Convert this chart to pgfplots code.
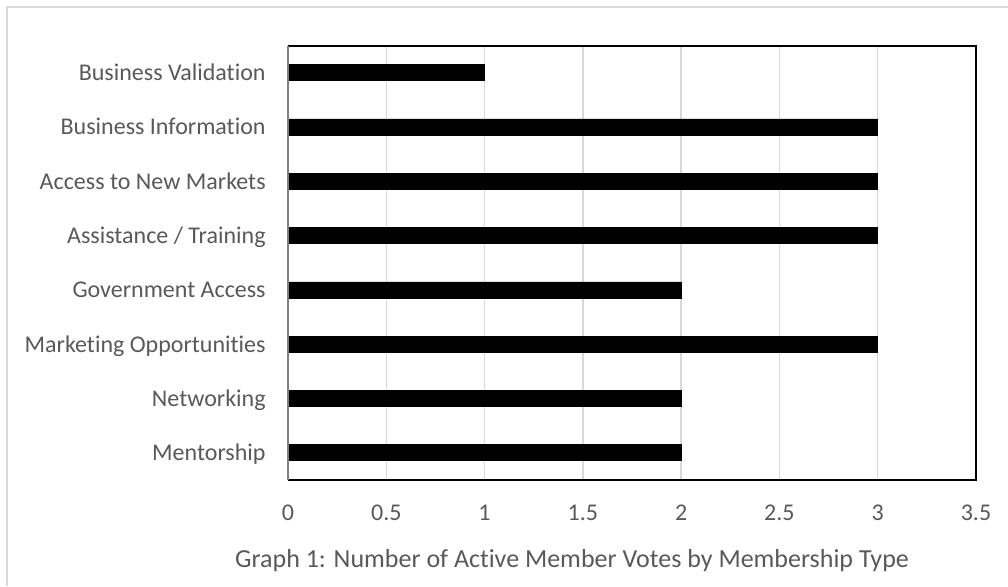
\documentclass[border=0pt]{standalone}
\usepackage{pgfplots}
\pgfplotsset{compat=1.18}
\usepackage{fontspec}
\setmainfont[Ligatures=NoCommon]{Carlito}
\definecolor{txt}{HTML}{595959}
\definecolor{grd}{HTML}{D9D9D9}
\begin{document}
\begin{tikzpicture}[x=1pt,y=1pt]
\path[use as bounding box] (0,0) rectangle (504,293);
\draw[grd, line width=1pt] (3.5,0) -- (3.5,289.5) -- (504,289.5);
\begin{axis}[
  at={(144pt,53pt)}, anchor=south west,
  scale only axis, width=344pt, height=217.25pt,
  xmin=0, xmax=3.5, ymin=-0.5, ymax=7.5,
  xtick={0,0.5,1,1.5,2,2.5,3,3.5},
  xticklabels={0,0.5,1,1.5,2,2.5,3,3.5},
  ytick={0,1,2,3,4,5,6,7},
  yticklabels={Mentorship,Networking,Marketing Opportunities,Government Access,Assistance / Training,Access to New Markets,Business Information,Business Validation},
  xmajorgrids, major grid style={grd, line width=0.75pt},
  major tick length=0pt,
  axis line style={draw=none},
  tick label style={font=\fontsize{12}{14}\selectfont, text=txt},
  xticklabel style={anchor=base, yshift=-20pt},
  yticklabel style={anchor=base east, inner sep=0pt, xshift=-11pt, yshift=-3.9pt},
  xbar, bar width=8pt,
  clip=false,
]
\addplot[fill=black, draw=black] coordinates {
 (2,0) (2,1) (3,2) (2,3) (3,4) (3,5) (3,6) (1,7)
};
\draw[black, line width=1pt] (rel axis cs:0,1) -- (rel axis cs:1,1) -- (rel axis cs:1,0) -- (rel axis cs:0,0);
\draw[gray, line width=0.9pt] (rel axis cs:0,0) -- (rel axis cs:0,1);
\end{axis}
\node[anchor=base, text=txt, font=\fontsize{13}{15}\selectfont, inner sep=0pt] at (286,9.5) {Graph 1: Number of Active Member Votes by Membership Type};
\end{tikzpicture}
\end{document}
